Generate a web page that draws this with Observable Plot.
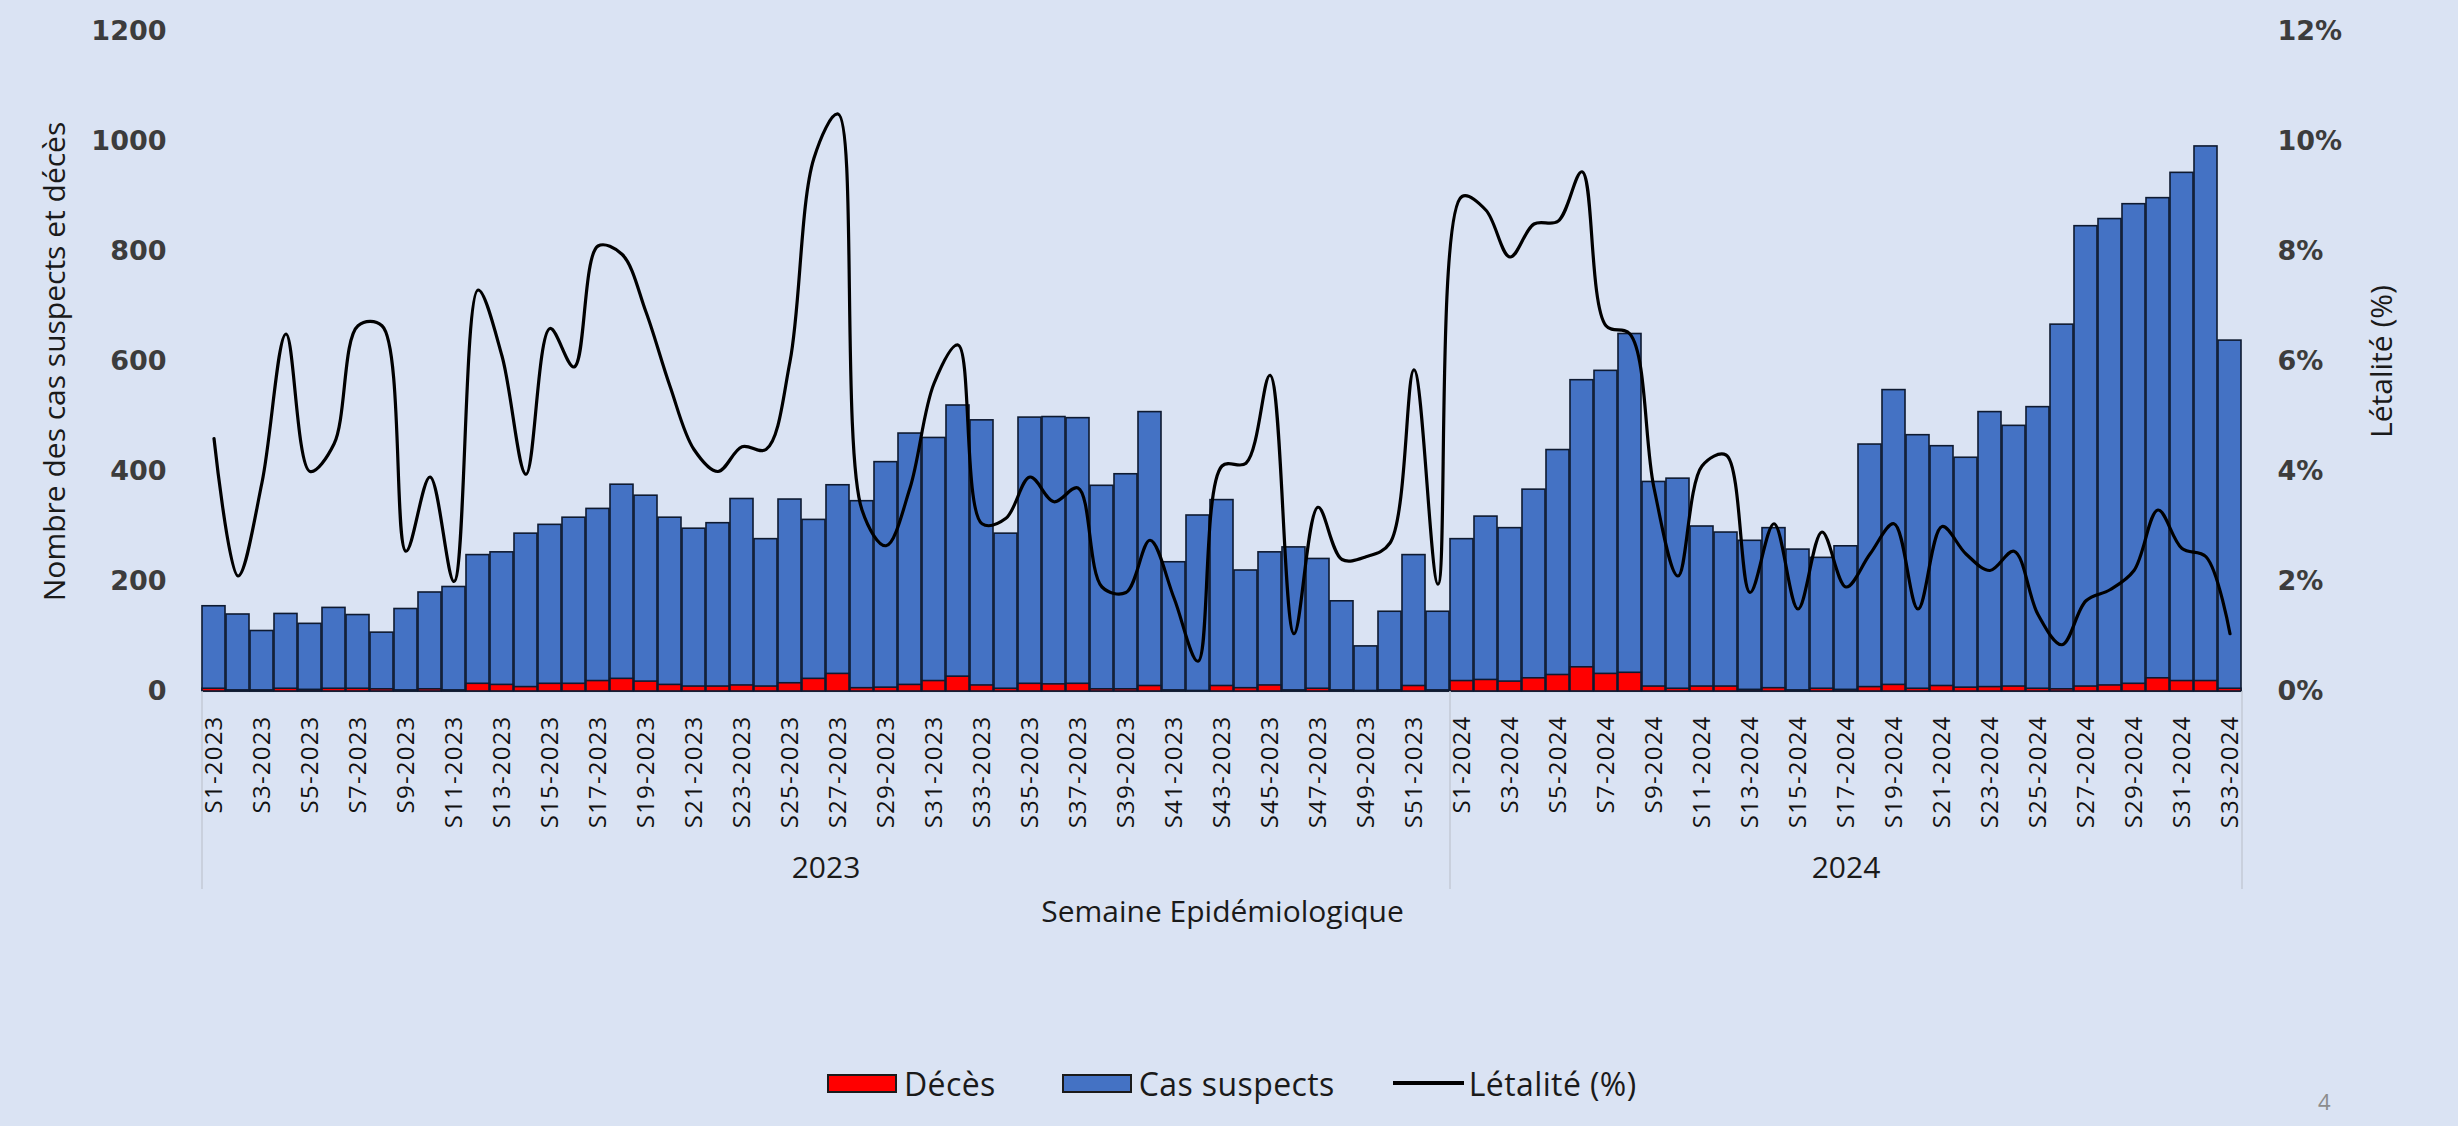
<!DOCTYPE html>
<html>
<head>
<meta charset="utf-8">
<script src="https://cdn.jsdelivr.net/npm/d3@7"></script>
<script src="https://cdn.jsdelivr.net/npm/@observablehq/plot@0.6"></script>
<style>
  html, body { margin: 0; padding: 0; background: #DAE3F3; }
  #page { position: relative; width: 2458px; height: 1126px; background: #DAE3F3; overflow: hidden; }
  #chart { height: 1040px; }
  #legend { height: 86px; display: flex; align-items: center; padding-left: 827px; box-sizing: border-box;
            font-family: "Open Sans", sans-serif; font-size: 32px; letter-spacing: 0.4px; color: #1a1a1a; }
  #legend .sw { display: inline-block; width: 70px; height: 19px; border: 2px solid #1a1a1a; box-sizing: border-box; margin-right: 7px; }
  #legend .ln { display: inline-block; width: 71px; height: 4px; background: #000; margin-right: 5px; }
  #legend .item { display: flex; align-items: center; }
  #pagenum { position: absolute; left: 2318px; top: 1086px; font-family: "Open Sans", sans-serif; font-size: 22px; color: #8c8c8c; }
  svg g[aria-label="x-axis tick label"] text { letter-spacing: 1.2px; }
</style>
</head>
<body>
<div id="page">
  <div id="chart"></div>
  <div id="legend">
    <div class="item" style="margin-right:66px"><span class="sw" style="background:#FF0000"></span><span>Décès</span></div>
    <div class="item" style="margin-right:58px"><span class="sw" style="background:#4472C4"></span><span>Cas suspects</span></div>
    <div class="item"><span class="ln"></span><span>Létalité (%)</span></div>
  </div>
  <div id="pagenum">4</div>
</div>
<script>
// Weeks (categories)
const weeks2023 = Array.from({length: 52}, (_, i) => `S${i + 1}-2023`);
const weeks2024 = Array.from({length: 33}, (_, i) => `S${i + 1}-2024`);
const weeks = [...weeks2023, ...weeks2024];

// Cas suspects
const cases2023 = [155, 140, 110, 141, 123, 152, 139, 107, 150, 180, 190, 248, 253, 287, 303, 316, 332, 376, 356, 316,
                   296, 306, 350, 277, 349, 312, 375, 346, 417, 469, 461, 520, 493, 287, 498, 499, 497, 374, 395, 508,
                   235, 320, 348, 220, 253, 262, 241, 164, 82, 145, 248, 145];
const cases2024 = [277, 318, 297, 367, 439, 566, 583, 650, 381, 387, 300, 289, 274, 297, 258, 243, 264, 449, 548, 466,
                   446, 425, 508, 483, 517, 667, 846, 859, 886, 897, 943, 991, 638];

// Décès
const deaths2023 = [5, 2, 2, 5, 3, 5, 5, 4, 2, 4, 2, 14, 12, 8, 14, 14, 19, 23, 18, 12,
                    9, 9, 11, 9, 15, 23, 32, 6, 7, 12, 19, 27, 11, 5, 14, 13, 14, 4, 4, 10,
                    2, 1, 10, 6, 11, 2, 5, 2, 1, 2, 10, 2];
const deaths2024 = [19, 21, 18, 24, 30, 44, 32, 34, 9, 5, 9, 9, 3, 6, 2, 5, 3, 8, 12, 5,
                    10, 7, 8, 9, 5, 4, 9, 11, 14, 24, 19, 19, 5];

// Létalité (%)
const lethality2023 = [4.6, 2.1, 3.8, 6.5, 4.0, 4.5, 6.65, 6.65, 2.55, 3.9, 2.0, 7.3, 6.1, 3.95, 6.6, 5.9, 8.1, 7.95, 6.9, 5.55,
                       4.4, 4.0, 4.45, 4.4, 6.0, 9.7, 10.5, 3.3, 2.65, 3.7, 5.6, 6.3, 3.05, 3.15, 3.9, 3.45, 3.7, 1.9, 1.8, 2.75,
                       1.7, 0.55, 4.1, 4.15, 5.75, 1.05, 3.35, 2.4, 2.45, 2.7, 5.85, 1.95];
const lethality2024 = [9.0, 8.75, 7.9, 8.5, 8.55, 9.45, 6.65, 6.5, 3.7, 2.1, 4.1, 4.3, 1.8, 3.05, 1.5, 2.9, 1.9, 2.5, 3.05, 1.5,
                       3.0, 2.5, 2.2, 2.55, 1.4, 0.85, 1.65, 1.85, 2.2, 3.3, 2.6, 2.45, 1.05];

// Axis ticks
const countTicks = [0, 200, 400, 600, 800, 1000, 1200];
const pctTicks = [0, 2, 4, 6, 8, 10, 12];
const years = ["2023", "2024"];

const cases = [...cases2023, ...cases2024];
const deaths = [...deaths2023, ...deaths2024];
const lethality = [...lethality2023, ...lethality2024];
const data = weeks.map((w, i) => ({week: w, cases: cases[i], deaths: deaths[i], lethality: lethality[i]}));
const oddWeeks = weeks.filter(w => (+w.slice(1, w.indexOf("-"))) % 2 === 1);

const axisFont = {fontSize: 27, fontWeight: "bold", fontFamily: "DejaVu Sans", color: "#3c3c3c"};
const titleFont = {fontFamily: "Open Sans", fill: "#1a1a1a", textAnchor: "middle"};

const plot = Plot.plot({
  width: 2458,
  height: 1040,
  marginTop: 31,
  marginBottom: 349,
  marginLeft: 201,
  marginRight: 215,
  style: {background: "transparent", fontFamily: "Open Sans", overflow: "visible"},
  x: {domain: weeks, padding: 0.04, axis: null},
  y: {domain: [0, 1200], axis: null},
  marks: [
    Plot.ruleY([0], {stroke: "#c3cad6", strokeWidth: 1.5}),
    Plot.barY(data, {x: "week", y: "cases", fill: "#4472C4", stroke: "#0e1a30", strokeWidth: 1.6}),
    Plot.barY(data, {x: "week", y: "deaths", fill: "#FF0000", stroke: "#0e1a30", strokeWidth: 1.6}),
    Plot.line(data, {x: "week", y: d => d.lethality * 100, curve: "catmull-rom", stroke: "#000", strokeWidth: 3.2}),
    Plot.axisY({anchor: "left", ticks: countTicks, tickSize: 0, tickPadding: 35, tickFormat: d => String(d), label: null, ...axisFont}),
    Plot.axisY({anchor: "right", ticks: pctTicks.map(p => p * 100), tickSize: 0, tickPadding: 34, tickFormat: d => `${d / 100}%`, label: null, ...axisFont}),
    Plot.axisX({ticks: oddWeeks, tickRotate: -90, tickSize: 0, tickPadding: 24, fontSize: 24, fontFamily: "Open Sans", color: "#111", label: null}),
    // group separators of the two-level category axis
    Plot.axisX({ticks: ["S1-2023", "S1-2024"], tickSize: 198, dx: -12, tickFormat: () => "", stroke: "#c3cad6", strokeWidth: 1.5, label: null}),
    Plot.axisX({ticks: ["S33-2024"], tickSize: 198, dx: 12, tickFormat: () => "", stroke: "#c3cad6", strokeWidth: 1.5, label: null}),
    // year labels
    Plot.text([years[0]], {x: () => "S27-2023", dx: -12, frameAnchor: "bottom", dy: 186, fontSize: 30, ...titleFont}),
    Plot.text([years[1]], {x: () => "S17-2024", frameAnchor: "bottom", dy: 186, fontSize: 30, ...titleFont}),
    // axis titles
    Plot.text(["Semaine Epidémiologique"], {frameAnchor: "bottom", dy: 230, fontSize: 30, ariaLabel: "xtitle", ...titleFont}),
    Plot.text(["Nombre des cas suspects et décès"], {frameAnchor: "left", dx: -146, rotate: -90, fontSize: 30, ariaLabel: "ytitle", ...titleFont}),
    Plot.text(["Létalité (%)"], {frameAnchor: "right", dx: 139, rotate: -90, fontSize: 30, ariaLabel: "y2title", ...titleFont})
  ]
});
document.getElementById("chart").appendChild(plot);

// condensed look of the titles (as in the original)
const fit = (label, len) => {
  plot.querySelectorAll(`g[aria-label="${label}"] text`).forEach(t => {
    t.setAttribute("textLength", len);
    t.setAttribute("lengthAdjust", "spacingAndGlyphs");
  });
};
fit("ytitle", 418);
fit("y2title", 133);
fit("xtitle", 396);
</script>
</body>
</html>
